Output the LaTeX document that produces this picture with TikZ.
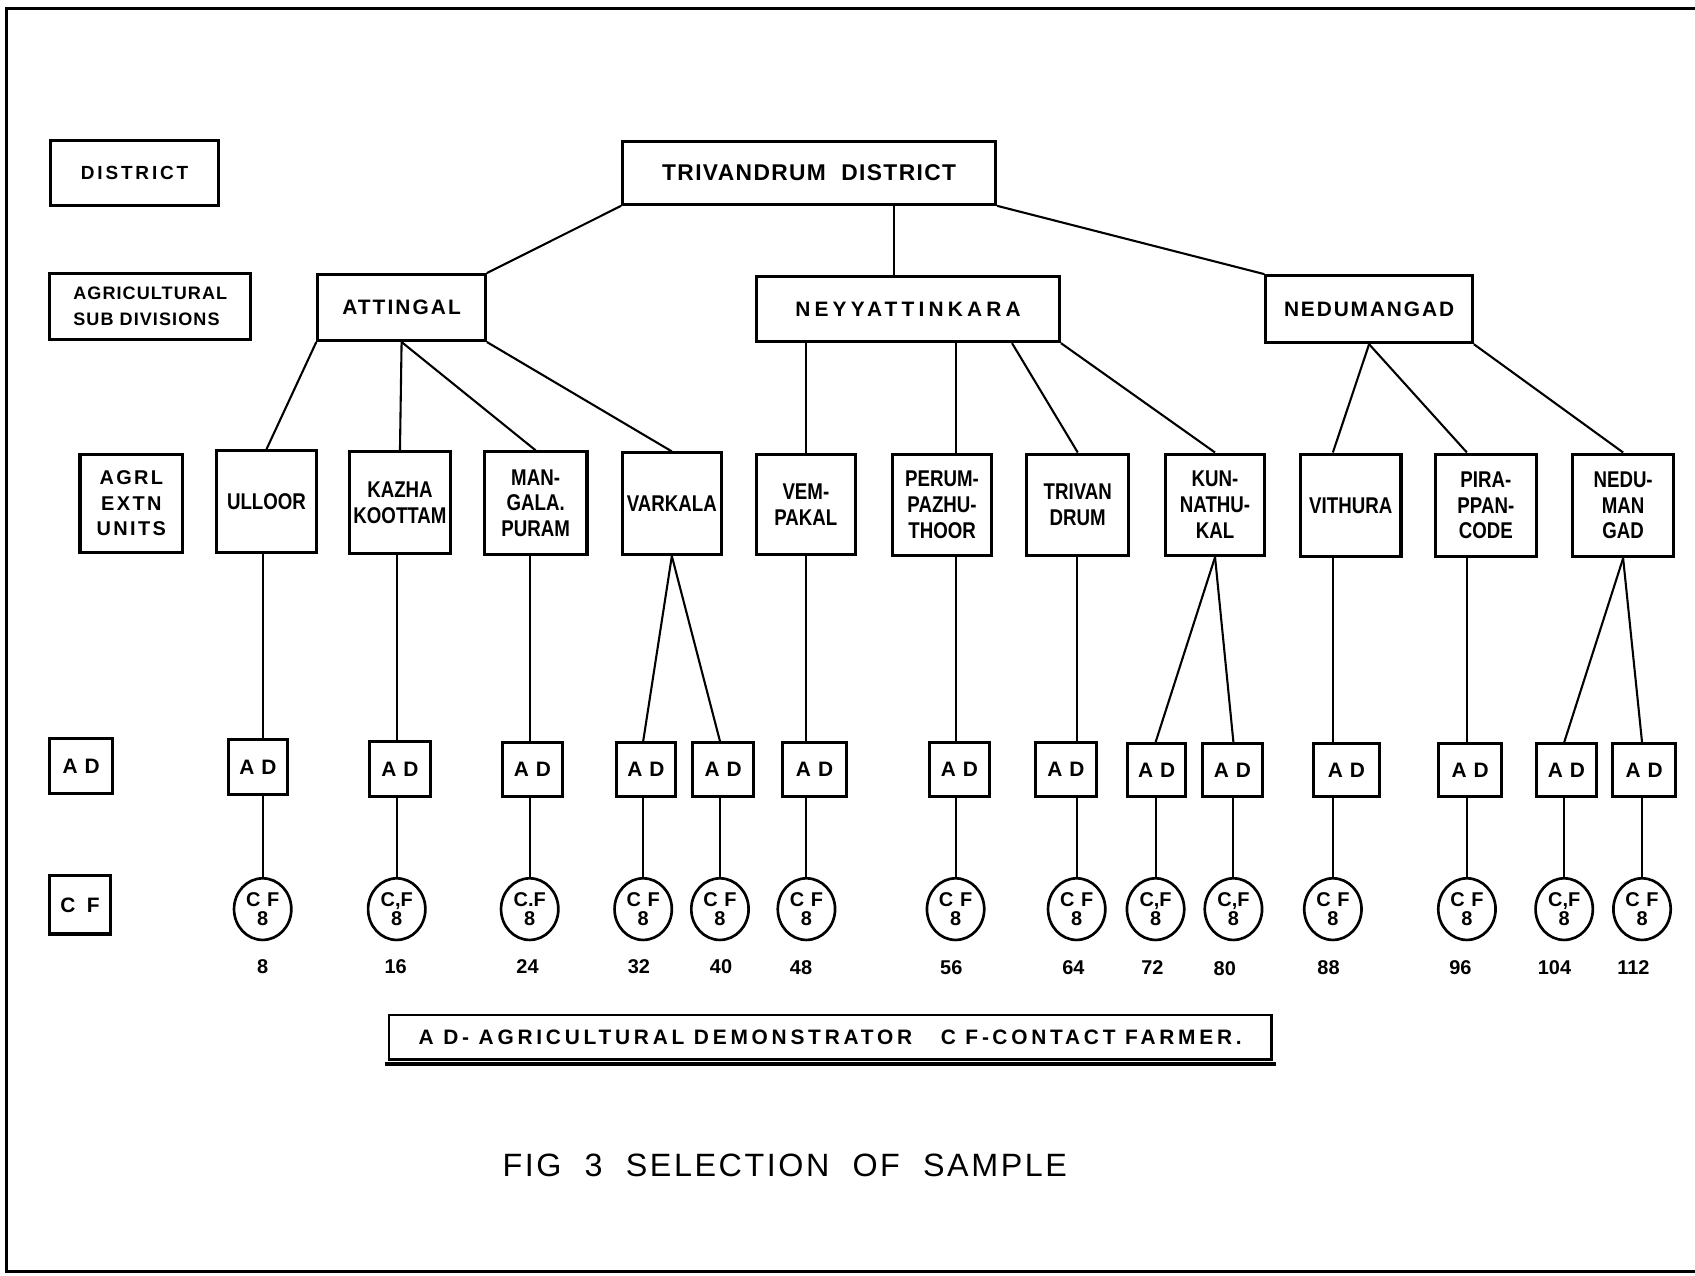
\documentclass[tikz,border=0pt]{standalone}
\usepackage{fontspec}
\setmainfont{Liberation Sans}
\newfontfamily\unitfont{Liberation Sans}[FakeStretch=0.82]
\usetikzlibrary{calc,shapes.geometric}
\newcommand\bx[7][]{\node[bxs,#1,minimum width={(#4-#3)*0.02cm},minimum height={(#6-#5)*0.02cm}] (#2) at ({(#3+#4)/2},{(#5+#6)/2}) {#7};}
\tikzset{
  bxs/.style={draw,line width=1.6pt,inner sep=0pt,align=center},
  uf/.style={font=\unitfont\bfseries\fontsize{12}{13.6}\selectfont},
  tf/.style={font=\bfseries\fontsize{11}{13}\selectfont\addfontfeature{LetterSpace=#1}},
  adf/.style={font=\bfseries\fontsize{11}{13}\selectfont},
  conn/.style={line width=1.1pt},
  cfs/.style={draw,ellipse,line width=1.4pt,inner sep=0pt,minimum width=53*0.02cm,minimum height=57*0.02cm,align=center,font=\bfseries\fontsize{10.5}{10}\selectfont},
  num/.style={inner sep=0pt,font=\bfseries\fontsize{10.5}{12}\selectfont},
}
\begin{document}
\begin{tikzpicture}[x=0.02cm,y=-0.02cm]
\useasboundingbox (0,0) rectangle (1568,1180);
% frame
\draw[line width=1.4pt] (1568,8) -- (6,8) -- (6,1176) -- (1568,1176);

% legend column
\bx[font=\bfseries\fontsize{10}{12}\selectfont\addfontfeature{LetterSpace=15}]{lgd}{47}{202}{130}{190}{DISTRICT}
\bx[font=\bfseries\fontsize{9.5}{13.5}\selectfont\addfontfeature{LetterSpace=6},align=left]{lgs}{46}{232}{253}{314}{AGRICULTURAL\\SUB DIVISIONS}
\bx[font=\bfseries\fontsize{10.5}{13.6}\selectfont\addfontfeature{LetterSpace=12}]{lgu}{74}{169}{420}{511}{AGRL\\EXTN\\UNITS}
\bx[adf]{lga}{46}{104}{683}{734}{A\,\,D}
\bx[adf]{lgc}{46}{102}{810}{864}{C\ \ F}

% district and subdivisions
\bx[font=\bfseries\fontsize{12}{14}\selectfont\addfontfeature{LetterSpace=6}]{td}{576}{921}{131}{189}{TRIVANDRUM\ \ DISTRICT}
\bx[tf=10]{att}{294}{449}{254}{315}{ATTINGAL}
\bx[tf=20]{nk}{700}{980}{256}{316}{NEYYATTINKARA}
\bx[tf=9]{nd}{1171}{1362}{255}{317}{NEDUMANGAD}

% extension units
\bx[uf]{ul}{200}{293}{417}{511}{ULLOOR}
\bx[uf]{kz}{323}{417}{418}{512}{KAZHA\\KOOTTAM}
\bx[uf]{mg}{448}{543}{418}{513}{MAN-\\GALA.\\PURAM}
\bx[uf]{va}{576}{667}{419}{513}{VARKALA}
\bx[uf]{vp}{700}{791}{420}{513}{VEM-\\PAKAL}
\bx[uf]{pp}{826}{917}{420}{514}{PERUM-\\PAZHU-\\THOOR}
\bx[uf]{tv}{950}{1044}{420}{514}{TRIVAN\\DRUM}
\bx[uf]{kn}{1078}{1170}{420}{514}{KUN-\\NATHU-\\KAL}
\bx[uf]{vi}{1203}{1296}{420}{515}{VITHURA}
\bx[uf]{pi}{1328}{1421}{420}{515}{PIRA-\\PPAN-\\CODE}
\bx[uf]{ne}{1455}{1548}{420}{515}{NEDU-\\MAN\\GAD}

% agricultural demonstrators
\bx[adf]{ad1}{211}{266}{684}{735}{A\,\,D}
\bx[adf]{ad2}{342}{398}{686}{737}{A\,\,D}
\bx[adf]{ad3}{465}{520}{687}{737}{A\,\,D}
\bx[adf]{ad4}{570}{625}{687}{737}{A\,\,D}
\bx[adf]{ad5}{641}{697}{687}{737}{A\,\,D}
\bx[adf]{ad6}{724}{783}{687}{737}{A\,\,D}
\bx[adf]{ad7}{860}{915}{687}{737}{A\,\,D}
\bx[adf]{ad8}{958}{1014}{687}{737}{A\,\,D}
\bx[adf]{ad9}{1043}{1097}{688}{737}{A\,\,D}
\bx[adf]{ad10}{1112}{1168}{688}{737}{A\,\,D}
\bx[adf]{ad11}{1215}{1276}{688}{737}{A\,\,D}
\bx[adf]{ad12}{1331}{1389}{688}{737}{A\,\,D}
\bx[adf]{ad13}{1421}{1477}{688}{737}{A\,\,D}
\bx[adf]{ad14}{1492}{1550}{688}{737}{A\,\,D}

% contact farmers
\node[cfs] (cf1) at (243,841) {C\,\,F\\8};
\node[cfs] (cf2) at (367,841) {C,F\\8};
\node[cfs] (cf3) at (490,841) {C.F\\8};
\node[cfs] (cf4) at (595,841) {C\,\,F\\8};
\node[cfs] (cf5) at (666,841) {C\,\,F\\8};
\node[cfs] (cf6) at (746,841) {C\,\,F\\8};
\node[cfs] (cf7) at (884,841) {C\,\,F\\8};
\node[cfs] (cf8) at (996,841) {C\,\,F\\8};
\node[cfs] (cf9) at (1069,841) {C,F\\8};
\node[cfs] (cf10) at (1141,841) {C,F\\8};
\node[cfs] (cf11) at (1233,841) {C\,\,F\\8};
\node[cfs] (cf12) at (1357,841) {C\,\,F\\8};
\node[cfs] (cf13) at (1447,841) {C,F\\8};
\node[cfs] (cf14) at (1519,841) {C\,\,F\\8};

% cumulative numbers
\node[num] (n1) at (243,894) {8};
\node[num] (n2) at (366,894) {16};
\node[num] (n3) at (488,894) {24};
\node[num] (n4) at (591,894) {32};
\node[num] (n5) at (667,894) {40};
\node[num] (n6) at (741,895) {48};
\node[num] (n7) at (880,895) {56};
\node[num] (n8) at (993,895) {64};
\node[num] (n9) at (1066,895) {72};
\node[num] (n10) at (1133,896) {80};
\node[num] (n11) at (1229,895) {88};
\node[num] (n12) at (1351,895) {96};
\node[num] (n13) at (1438,895) {104};
\node[num] (n14) at (1511,895) {112};

% key and title
\node[draw,line width=1.4pt,minimum width=816*0.02cm,minimum height=41*0.02cm,inner sep=0pt,
  font=\bfseries\fontsize{11}{12}\selectfont\addfontfeature{LetterSpace=18}] (key) at (768,959.5)
  {A D-\ AGRICULTURAL DEMONSTRATOR\ \ \ C F-\,CONTACT FARMER.};
\draw[line width=2pt] ($(key.south west)+(-3,3)$) -- ($(key.south east)+(3,3)$);
\node[font=\fontsize{17}{20}\selectfont\addfontfeature{LetterSpace=8}] (title) at (726,1078) {FIG\ \ 3\ \ SELECTION\ \ OF\ \ SAMPLE};

% connectors: district to subdivisions
\coordinate (tdm) at ($(td.south west)!0.725!(td.south east)$);
\draw[conn] (td.south west) -- (att.north east);
\draw[conn] (tdm) -- (tdm |- nk.north);
\draw[conn] (td.south east) -- (nd.north west);

% subdivisions to units
\draw[conn] (att.south west) -- (ul.north);
\draw[conn] (att.south) -- (kz.north);
\draw[conn] (att.south) -- (mg.north);
\draw[conn] (att.south east) -- (va.north);
\draw[conn] (cf6.north |- nk.south) -- (cf6.north |- vp.north);
\draw[conn] (cf7.north |- nk.south) -- (cf7.north |- pp.north);
\draw[conn] ($(nk.south west)!0.84!(nk.south east)$) -- (tv.north);
\draw[conn] (nk.south east) -- (kn.north);
\draw[conn] (nd.south) -- (cf11.north |- vi.north);
\draw[conn] (nd.south) -- (cf12.north |- pi.north);
\draw[conn] (nd.south east) -- (ne.north);

% units to demonstrators
\draw[conn] (cf1.north |- ul.south) -- (cf1.north |- ad1.north);
\draw[conn] (cf2.north |- kz.south) -- (cf2.north |- ad2.north);
\draw[conn] (cf3.north |- mg.south) -- (cf3.north |- ad3.north);
\draw[conn] (va.south) -- (cf4.north |- ad4.north);
\draw[conn] (va.south) -- (cf5.north |- ad5.north);
\draw[conn] (cf6.north |- vp.south) -- (cf6.north |- ad6.north);
\draw[conn] (cf7.north |- pp.south) -- (cf7.north |- ad7.north);
\draw[conn] (cf8.north |- tv.south) -- (cf8.north |- ad8.north);
\draw[conn] (kn.south) -- (cf9.north |- ad9.north);
\draw[conn] (kn.south) -- (cf10.north |- ad10.north);
\draw[conn] (cf11.north |- vi.south) -- (cf11.north |- ad11.north);
\draw[conn] (cf12.north |- pi.south) -- (cf12.north |- ad12.north);
\draw[conn] (ne.south) -- (cf13.north |- ad13.north);
\draw[conn] (ne.south) -- (cf14.north |- ad14.north);

% demonstrators to contact farmers
\foreach \k in {1,...,14}{
  \draw[conn] (cf\k.north |- ad\k.south) -- (cf\k.north);
}
\end{tikzpicture}
\end{document}
